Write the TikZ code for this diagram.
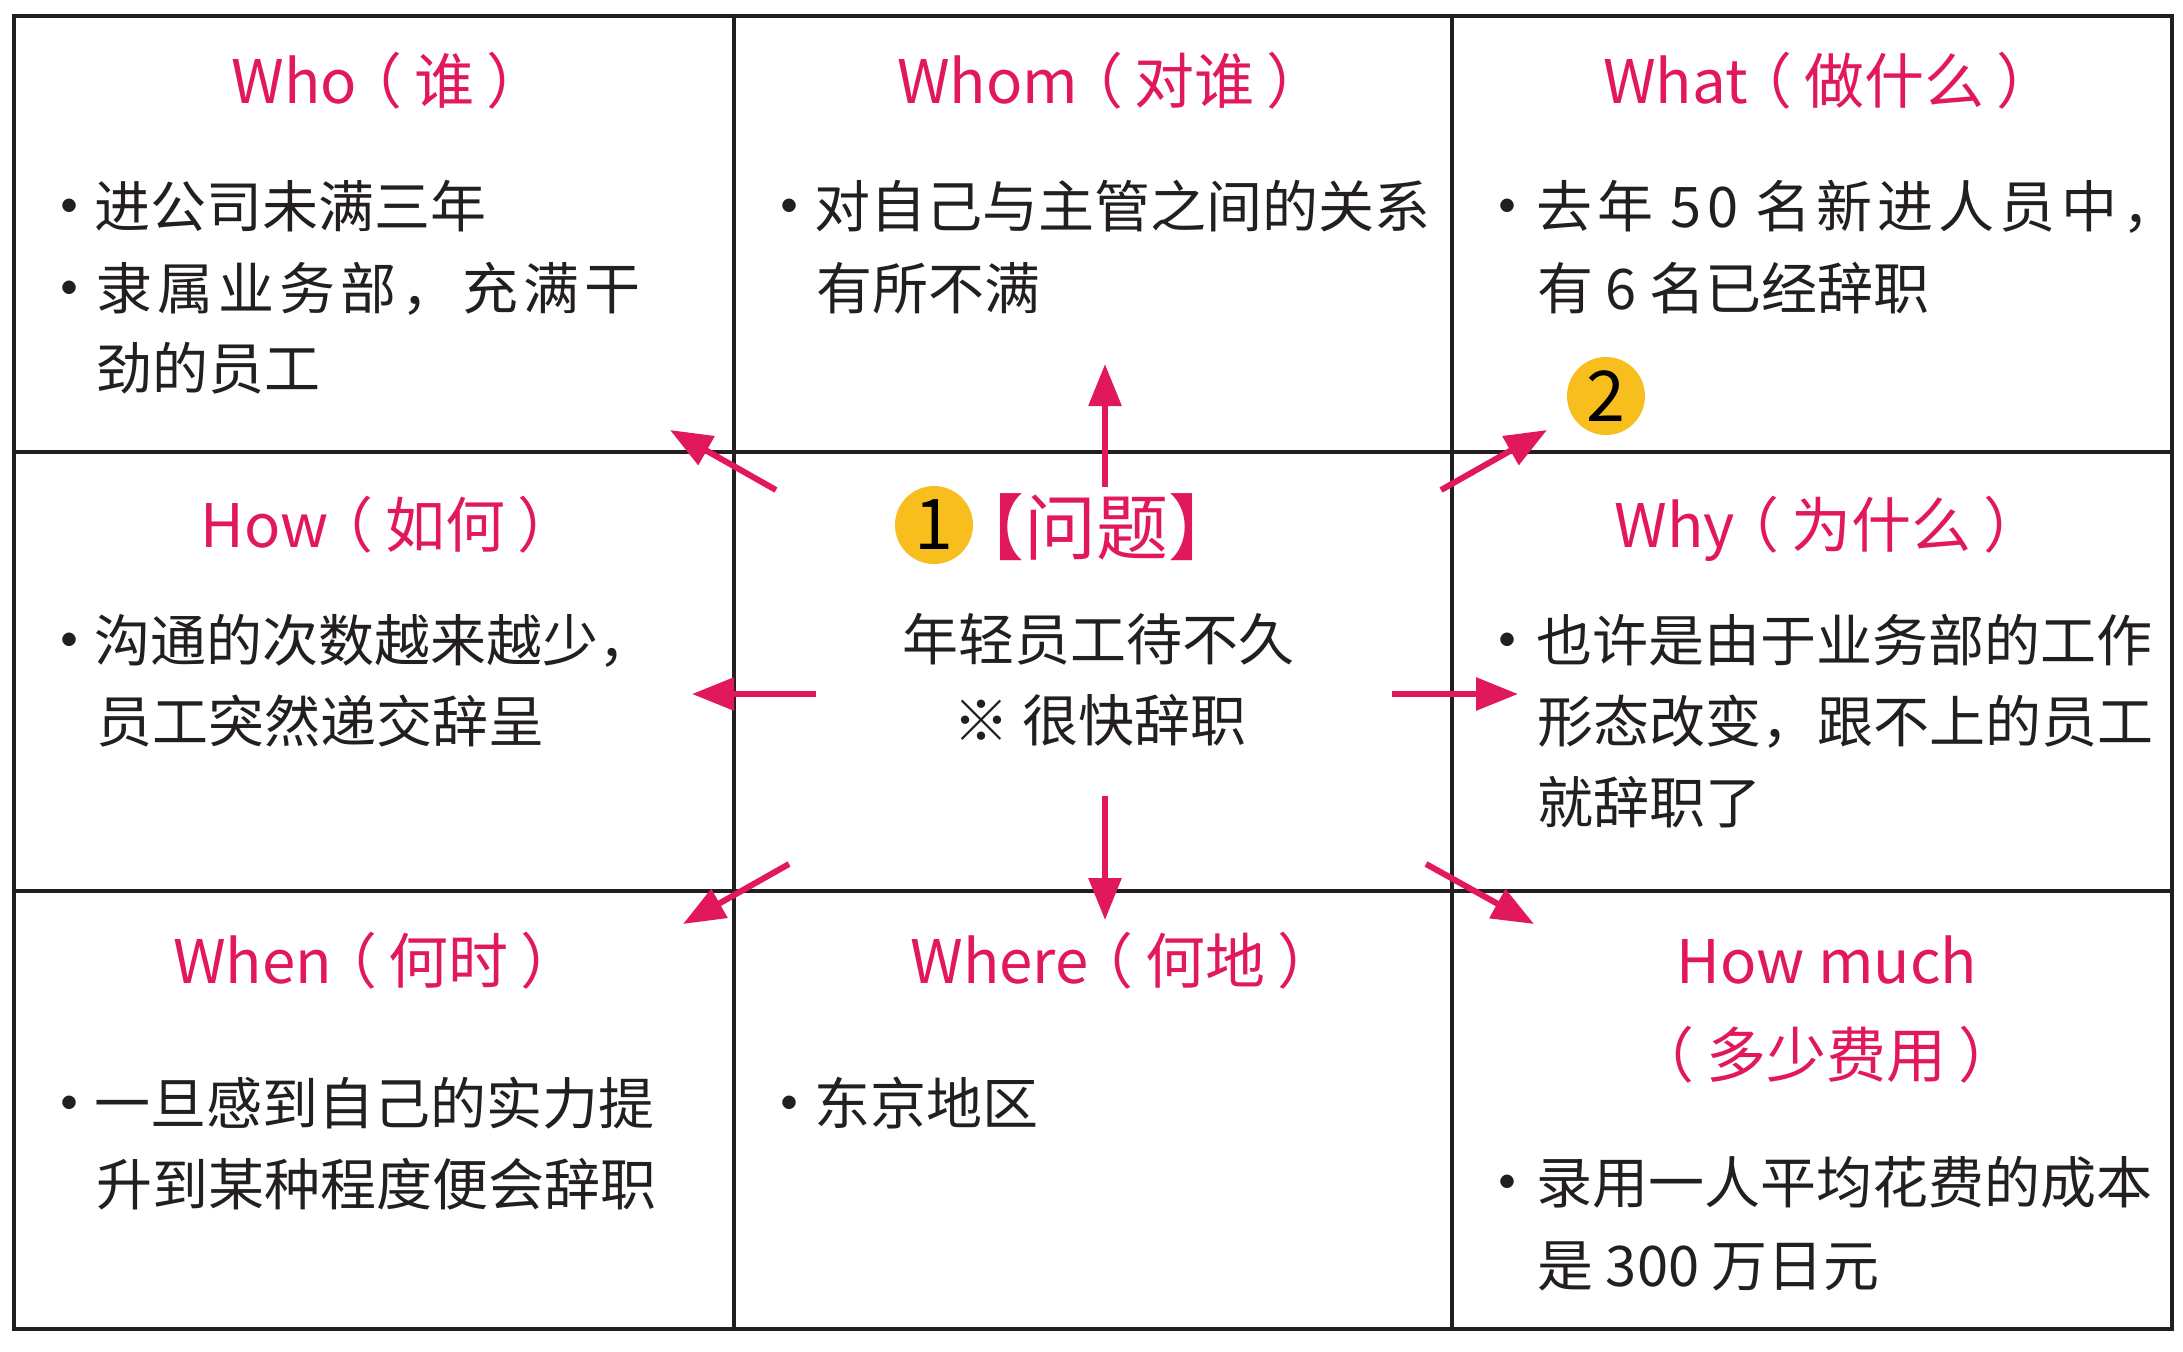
\documentclass[tikz,border=0pt]{standalone}
\usepackage{fontspec}
\setmainfont{Noto Sans CJK SC}
\usetikzlibrary{arrows.meta}
\definecolor{pk}{RGB}{226,24,94}
\definecolor{yl}{RGB}{247,190,30}
\definecolor{ink}{RGB}{35,31,32}
\newcommand{\inparen}[1]{\hspace{-.25em}（\hspace{.2em}#1\hspace{.2em}）\hspace{-.4em}}
\newcommand{\soloparen}[1]{\hspace{-.45em}（\hspace{.2em}#1\hspace{.2em}）\hspace{-.45em}}
\begin{document}
\begin{tikzpicture}[x=0.5pt,y=-0.5pt,
  grid/.style={draw=ink,line width=2pt},
  ttl/.style={text=pk,font=\fontsize{30pt}{36pt}\selectfont,inner sep=0pt,text height=26.4pt,text depth=3.6pt,anchor=center},
  bigttl/.style={text=pk,font=\fontsize{36pt}{42pt}\selectfont,inner sep=0pt,text height=31.7pt,text depth=4.3pt,anchor=center},
  body/.style={text=ink,font=\fontsize{28pt}{34pt}\selectfont,inner sep=0pt,text height=24.6pt,text depth=3.4pt,anchor=west},
  wide/.style={font=\fontsize{28pt}{34pt}\selectfont\addfontfeature{LetterSpace=9}},
  bul/.style={text=ink,font=\fontsize{7.5pt}{9pt}\selectfont,inner sep=0pt,text height=6.6pt,text depth=0.9pt,anchor=center},
  badge/.style={circle,fill=yl,minimum size=39pt,inner sep=0pt,text=black,font=\fontsize{35pt}{40pt}\selectfont},
  arr/.style={draw=pk,line width=3pt,-{Triangle[length=21pt,width=16pt]}}
]
\useasboundingbox (0,0) rectangle (2183,1351);
\fill[white] (0,0) rectangle (2183,1351);
% grid
\draw[grid] (14,16) rectangle (2172,1329);
\draw[grid] (734,16) -- (734,1329);
\draw[grid] (1452,16) -- (1452,1329);
\draw[grid] (14,452) -- (2172,452);
\draw[grid] (14,891) -- (2172,891);

% titles
\node[ttl] (tWho) at (389,81) {Who\inparen{谁}};
\node[ttl] (tWhom) at (1112,81) {Whom\inparen{对谁}};
\node[ttl] (tWhat) at (1830,81) {What\inparen{做什么}};
\node[ttl] (tHow) at (389,525) {How\inparen{如何}};
\node[ttl] (tWhy) at (1829,525) {Why\inparen{为什么}};
\node[ttl] (tWhen) at (377,961) {When\inparen{何时}};
\node[ttl] (tWhere) at (1124,961) {Where\inparen{何地}};
\node[ttl] (tHowmuch) at (1827,961) {How much};
\node[ttl] (tHowmuchB) at (1840,1055) {\soloparen{多少费用}};

% center
\node[badge] (b1) at (934,525) {1};
\node[bigttl] (tProb) at (1096,527) {【问题】};
\node[body,anchor=center] (c1) at (1098,639) {年轻员工待不久};
\node[body,anchor=center] (c2) at (1100,720) {※ 很快辞职};
\node[badge] (b2) at (1606,396) {2};

% Who
\node[bul] (wb1) at (69,206) {●};
\node[body] (w1) at (94,206) {进公司未满三年};
\node[bul] (wb2) at (69,288) {●};
\node[body,wide] (w2) at (96,288) {隶属业务部，充满干};
\node[body] (w3) at (96,368) {劲的员工};
% Whom
\node[bul] (mb1) at (789,206) {●};
\node[body] (m1) at (814,206) {对自己与主管之间的关系};
\node[body] (m2) at (816,288) {有所不满};
% What
\node[bul] (ab1) at (1507,206) {●};
\node[body,wide] (a1) at (1536,206) {去年 50 名新进人员中，};
\node[body] (a2) at (1537,288) {有 6 名已经辞职};
% How
\node[bul] (hb1) at (69,640) {●};
\node[body] (h1) at (94,640) {沟通的次数越来越少，};
\node[body] (h2) at (96,721) {员工突然递交辞呈};
% Why
\node[bul] (yb1) at (1507,640) {●};
\node[body] (y1) at (1536,640) {也许是由于业务部的工作};
\node[body] (y2) at (1537,721) {形态改变，跟不上的员工};
\node[body] (y3) at (1537,802) {就辞职了};
% When
\node[bul] (nb1) at (69,1103) {●};
\node[body] (n1) at (94,1103) {一旦感到自己的实力提};
\node[body] (n2) at (96,1184) {升到某种程度便会辞职};
% Where
\node[bul] (rb1) at (789,1103) {●};
\node[body] (r1) at (814,1103) {东京地区};
% How much
\node[bul] (ub1) at (1507,1182) {●};
\node[body] (u1) at (1536,1182) {录用一人平均花费的成本};
\node[body] (u2) at (1537,1265) {是 300 万日元};

% arrows
\coordinate (aU0) at (1105,487);  \coordinate (aU1) at (1105,364);
\coordinate (aD0) at (1105,796);  \coordinate (aD1) at (1105,920);
\coordinate (aW0) at (816,694);   \coordinate (aW1) at (692,694);
\coordinate (aE0) at (1392,694);  \coordinate (aE1) at (1518,694);
\coordinate (aNW0) at (776,490);  \coordinate (aNW1) at (670,430);
\coordinate (aNE0) at (1441,490); \coordinate (aNE1) at (1547,430);
\coordinate (aSW0) at (789,864);  \coordinate (aSW1) at (683,924);
\coordinate (aSE0) at (1426,864); \coordinate (aSE1) at (1534,924);
\draw[arr] (aU0) -- (aU1);
\draw[arr] (aD0) -- (aD1);
\draw[arr] (aW0) -- (aW1);
\draw[arr] (aE0) -- (aE1);
\draw[arr] (aNW0) -- (aNW1);
\draw[arr] (aNE0) -- (aNE1);
\draw[arr] (aSW0) -- (aSW1);
\draw[arr] (aSE0) -- (aSE1);
\end{tikzpicture}
\end{document}
